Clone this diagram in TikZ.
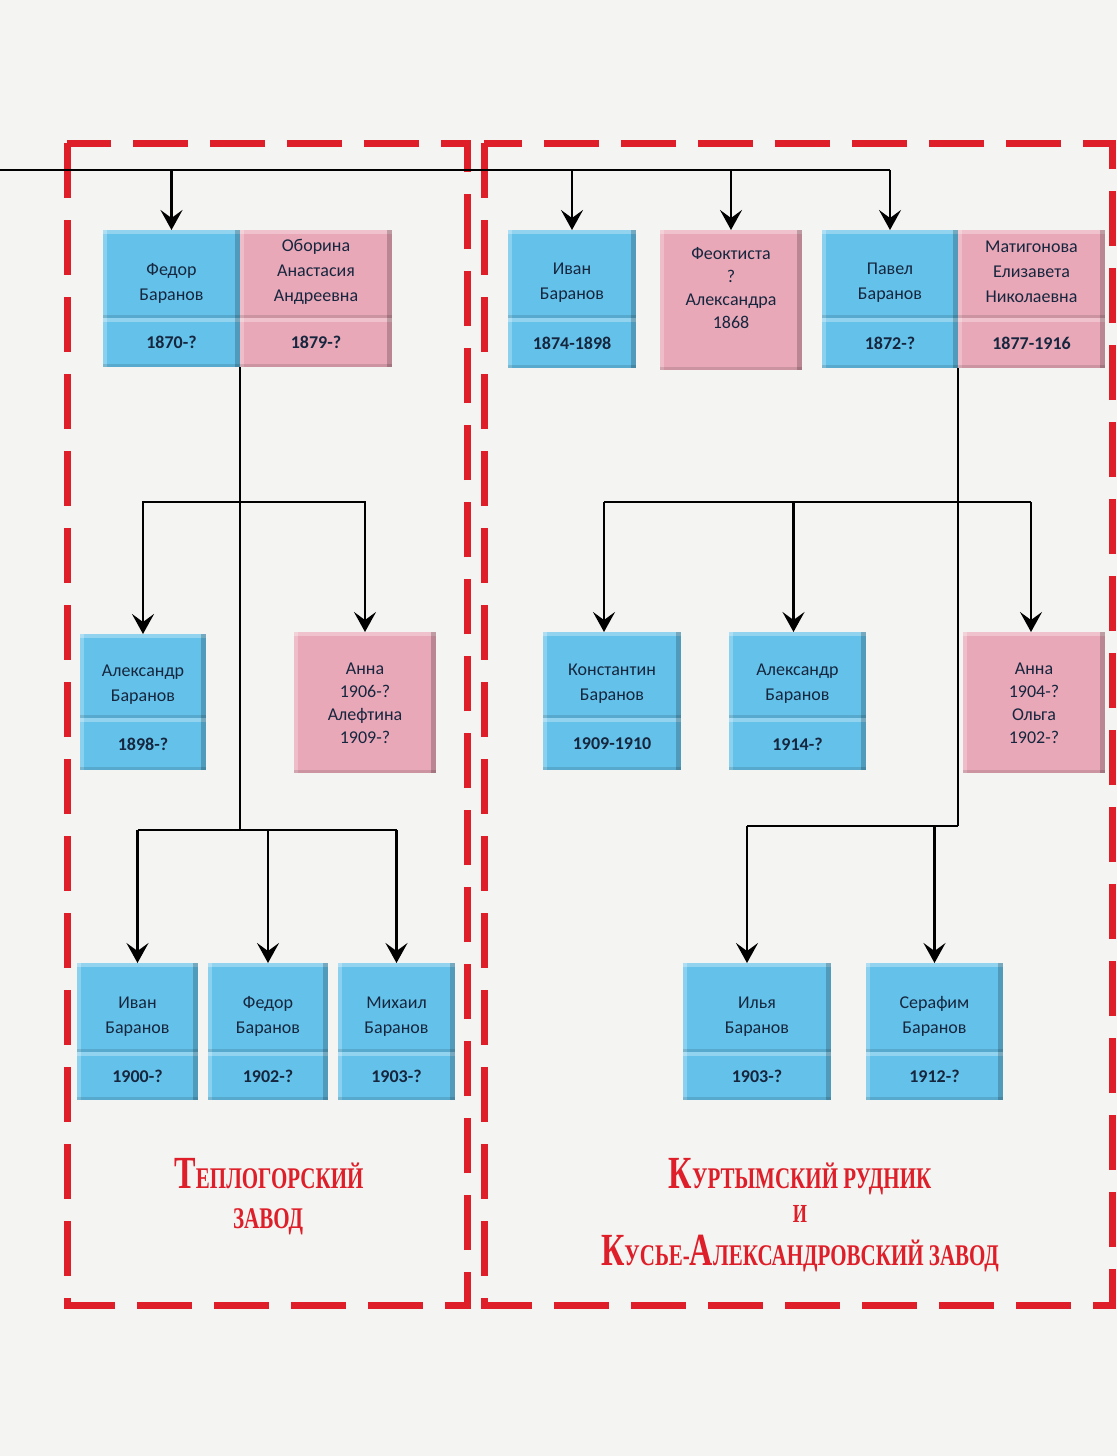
\documentclass[tikz,border=0pt]{standalone}
\usepackage{fontspec}
\setmainfont{Carlito}
\newfontfamily\labfont[FakeStretch=0.7]{Liberation Serif}
\usetikzlibrary{arrows.meta,calc}
\definecolor{pblue}{RGB}{100,194,234}
\definecolor{ppink}{RGB}{233,168,184}
\definecolor{ptext}{RGB}{22,38,62}
\definecolor{fred}{RGB}{222,30,40}
\definecolor{paper}{RGB}{244,244,242}
\gdef\tshv{9}
\tikzset{
 bev/.style={path picture={
   \fill[white,opacity=0.3] (path picture bounding box.north west) rectangle ([yshift=-4pt]path picture bounding box.north east);
   \fill[white,opacity=0.25] (path picture bounding box.north west) rectangle ([xshift=4pt]path picture bounding box.south west);
   \fill[black,opacity=0.2] ([xshift=-5pt]path picture bounding box.north east) rectangle (path picture bounding box.south east);
   \fill[black,opacity=0.12] ([yshift=3pt]path picture bounding box.south west) rectangle (path picture bounding box.south east);
 }},
 tsh/.code={\gdef\tshv{#1}},
 box/.style={rectangle, bev, inner sep=0pt, outer sep=0pt, anchor=north west},
 bluebox/.style={box, fill=pblue},
 pinkbox/.style={box, fill=ppink},
 nametext/.style={align=center, text=ptext, font=\fontsize{18}{25}\selectfont, inner sep=0pt},
 pinktext/.style={align=center, text=ptext, font=\fontsize{18}{23}\selectfont, inner sep=0pt},
 datetext/.style={text=ptext, font=\bfseries\fontsize{18}{20}\selectfont},
 conn/.style={line width=2.5pt, black},
 arr/.style={conn, -{Stealth[length=20pt,width=22pt,inset=8pt]}},
 frame/.style={draw=fred, line width=7pt, dash pattern=on 55pt off 22pt},
 lab/.style={text=fred, inner sep=0pt, anchor=base, font=\labfont\bfseries},
}
% id, x, y, w, h1, h2, style, name, date
\newcommand\person[9]{%
  \gdef\tshv{9}%
  \node[#7, minimum width=#4, minimum height=#5] (#1) at (#2,#3) {};
  \node[nametext] (#1t) at ([yshift=-\tshv pt]#1.center) {#8};
  \node[#7, datetext, minimum width=#4, minimum height=#6] (#1d) at (#1.south west) {#9};
}
\begin{document}
\begin{tikzpicture}[x=1pt,y=-1pt]
\useasboundingbox (0,0) rectangle (1117,1456);
\fill[paper] (0,0) rectangle (1117,1456);

% red frames
\draw[frame] (67,143) rectangle (467,1305);
\draw[frame] (484,143) rectangle (1112,1305);

% row 1
\person{fedor}{103}{230}{137}{88}{49}{bluebox}{Федор\\Баранов}{1870-?}
\person{obor}{240}{230}{152}{88}{49}{pinkbox,tsh=-2}{Оборина\\Анастасия\\Андреевна}{1879-?}
\person{ivan}{508}{230}{128}{88}{50}{bluebox}{Иван\\Баранов}{1874-1898}
\node[pinkbox, minimum width=142, minimum height=140] (feokt) at (660,230) {};
\node[pinktext] (feoktt) at (731,288) {Феоктиста\\?\\Александра\\1868};
\person{pavel}{822}{230}{136}{88}{50}{bluebox}{Павел\\Баранов}{1872-?}
\person{matig}{958}{230}{147}{88}{50}{pinkbox,tsh=-2}{Матигонова\\Елизавета\\Николаевна}{1877-1916}

% row 2
\person{alexA}{80}{634}{126}{84}{52}{bluebox}{Александр\\Баранов}{1898-?}
\node[pinkbox, minimum width=142, minimum height=141] (annaA) at (294,632) {};
\node[pinktext] (annaAt) at (365,703) {Анна\\1906-?\\Алефтина\\1909-?};
\person{konst}{543}{632}{138}{86}{52}{bluebox}{Константин\\Баранов}{1909-1910}
\person{alexB}{729}{632}{137}{86}{52}{bluebox}{Александр\\Баранов}{1914-?}
\node[pinkbox, minimum width=142, minimum height=141] (annaB) at (963,632) {};
\node[pinktext] (annaBt) at (1034,703) {Анна\\1904-?\\Ольга\\1902-?};

% row 3
\person{ivanB}{77}{963}{121}{89}{48}{bluebox}{Иван\\Баранов}{1900-?}
\person{fedorB}{208}{963}{120}{89}{48}{bluebox}{Федор\\Баранов}{1902-?}
\person{mikh}{338}{963}{117}{89}{48}{bluebox}{Михаил\\Баранов}{1903-?}
\person{ilya}{683}{963}{148}{89}{48}{bluebox}{Илья\\Баранов}{1903-?}
\person{seraf}{866}{963}{137}{89}{48}{bluebox}{Серафим\\Баранов}{1912-?}

% top connector
\coordinate (topL) at (0,170);
\draw[conn] (topL) -- (pavel.north |- topL);
\foreach \n in {fedor,ivan,feokt,pavel} \draw[arr] (\n.north |- topL) -- (\n.north);

% left family
\coordinate (lj1) at (fedord.south east |- 0,502);
\coordinate (lj2) at (fedord.south east |- 0,830);
\draw[conn] (fedord.south east) -- (lj2);
\draw[arr] (lj1) -| (alexA.north);
\draw[arr] (lj1) -| (annaA.north);
\draw[conn] (ivanB.north |- lj2) -- (mikh.north |- lj2);
\foreach \n in {ivanB,fedorB,mikh} \draw[arr] (\n.north |- lj2) -- (\n.north);

% right family
\coordinate (rj1) at (paveld.south east |- 0,502);
\coordinate (rj2) at (paveld.south east |- 0,826);
\draw[conn] (paveld.south east) -- (rj2);
\draw[conn] ([xshift=-8pt]konst.north |- rj1) -- ([xshift=-3pt]annaB.north |- rj1);
\draw[arr] ([xshift=-8pt]konst.north |- rj1) -- ([xshift=-8pt]konst.north);
\draw[arr] ([xshift=-4pt]alexB.north |- rj1) -- ([xshift=-4pt]alexB.north);
\draw[arr] ([xshift=-3pt]annaB.north |- rj1) -- ([xshift=-3pt]annaB.north);
\draw[conn] (rj2) -- ([xshift=-10pt]ilya.north |- rj2);
\draw[arr] ([xshift=-10pt]ilya.north |- rj2) -- ([xshift=-10pt]ilya.north);
\draw[arr] (seraf.north |- rj2) -- (seraf.north);

% labels
\node[lab] (l1) at (269,1188) {\fontsize{46}{46}\selectfont Т\fontsize{30}{30}\selectfont ЕПЛОГОРСКИЙ};
\node[lab] (l2) at (268,1228) {\fontsize{30}{30}\selectfont ЗАВОД};
\node[lab] (r1) at (800,1188) {\fontsize{46}{46}\selectfont К\fontsize{30}{30}\selectfont УРТЫМСКИЙ РУДНИК};
\node[lab] (r2) at (800,1222) {\fontsize{26}{26}\selectfont И};
\node[lab] (r3) at (800,1265) {\fontsize{46}{46}\selectfont К\fontsize{30}{30}\selectfont УСЬЕ-\fontsize{46}{46}\selectfont А\fontsize{30}{30}\selectfont ЛЕКСАНДРОВСКИЙ ЗАВОД};
\end{tikzpicture}
\end{document}
